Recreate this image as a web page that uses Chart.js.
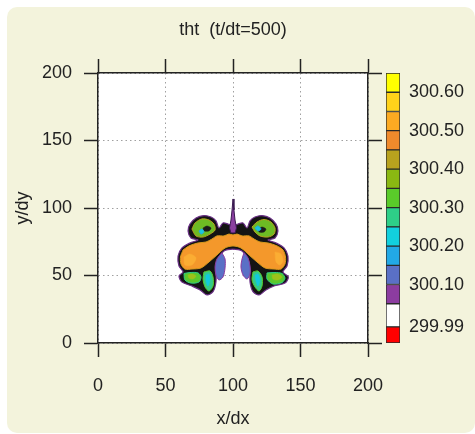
<!DOCTYPE html>
<html>
<head>
<meta charset="utf-8">
<title>tht (t/dt=500)</title>
<script src="https://cdn.jsdelivr.net/npm/chart.js@4.4.1/dist/chart.umd.min.js"></script>
<style>
  body { margin: 0; background: #fff; }
  #wrap { position: relative; width: 475px; height: 434px; overflow: hidden; }
  #panel { position: absolute; left: 7px; top: 7px; width: 468px; height: 426px; background: #f3f3dc; border-radius: 10px; }
  #plot { position: absolute; left: 0; top: 0; }
  #bar { position: absolute; left: 380px; top: 0; }
</style>
</head>
<body>
<div id="wrap">
  <div id="panel"></div>
  <canvas id="plot" width="475" height="434"></canvas>
  <canvas id="bar" width="95" height="434"></canvas>
</div>
<script>
'use strict'

// contour regions, in grid units (x/dx, y/dy)
const outline = [[100,86.7],[103.7,88.1],[107.4,88.9],[110.4,85.2],[112.6,90.4],[116.3,93.3],[121.5,94.4],[127.4,92.6],
  [131.9,88.1],[133.3,83.0],[131.1,77.8],[125.9,76.3],[131.9,74.1],[137.8,70.4],[140.7,64.4],[140.0,57.0],[137.0,52.6],
  [141.0,49.0],[138.5,44.4],[130.4,42.2],[124.4,39.3],[119.3,35.6],[114.8,38.0],[112.6,45.2],[112.6,54.1],[111.1,62.2],
  [106.7,68.1],[100,69.6],[93.3,68.1],[88.9,62.2],[87.4,54.1],[87.4,45.2],[85.2,38.0],[80.7,35.6],[75.6,39.3],[69.6,42.2],
  [62.2,45.2],[60.0,49.6],[63.0,52.6],[60.0,57.0],[59.3,64.4],[62.2,70.4],[68.1,74.1],[74.1,76.3],[68.9,77.8],[66.7,83.0],
  [68.1,88.1],[72.6,92.6],[78.5,94.4],[83.7,93.3],[87.4,90.4],[89.6,85.2],[92.6,88.9],[96.3,88.1],[100,86.7]];
const body = [[63.0,68.9],[67.4,71.9],[74.1,74.1],[80.0,74.8],[84.4,77.0],[88.1,79.3],[93.3,79.3],[97.0,80.7],[100,80.0],
  [103.0,80.7],[106.7,79.3],[111.9,79.3],[115.6,77.0],[120,74.8],[125.9,74.1],[132.6,71.9],[137.0,68.9],[138.9,63.7],
  [138.5,58.5],[135.6,54.8],[130.4,54.8],[123.7,55.6],[117.8,60.0],[111.9,65.2],[105.9,70.4],[100,71.9],[94.1,70.4],
  [88.1,65.2],[82.2,60.0],[76.3,55.6],[69.6,54.8],[64.4,54.8],[61.5,58.5],[61.1,63.7],[63.0,68.9]];
const patchL = [[63.7,63.7],[68.1,65.9],[72.6,63.0],[69.6,57.8],[64.4,57.8],[63.7,63.7]];
const patchR = [[131.1,67.4],[135.6,65.9],[137.0,60.7],[134.8,57.8],[131.9,60.0],[131.1,67.4]];
const earL = [[69.6,84.4],[71.9,88.9],[77.0,91.9],[82.2,91.1],[85.9,88.1],[86.7,83.7],[83.0,80.7],[77.8,78.5],[72.6,79.3],[69.6,84.4]];
const earLcore = [[77.8,85.2],[80.7,86.7],[83.7,85.2],[82.2,83.0],[78.5,83.0],[77.8,85.2]];
const earLspot = [[74.8,83.0],[77.0,84.4],[78.5,82.2],[76.3,80.7],[74.8,83.0]];
const earR = [[114.1,85.9],[117.8,89.6],[123.0,91.5],[128.1,89.6],[131.1,85.2],[130.4,80.7],[125.9,78.5],[120,79.3],[116.3,82.2],[114.1,85.9]];
const earRcore = [[118.5,84.4],[121.5,85.9],[124.4,84.4],[123.0,82.2],[119.3,82.2],[118.5,84.4]];
const earRspot = [[116.3,85.2],[118.5,86.7],[120.7,84.4],[118.5,83.0],[116.3,85.2]];
const lobeL = [[63.7,51.5],[68.1,52.2],[74.1,51.9],[76.3,48.9],[74.8,45.2],[68.9,44.4],[64.4,46.7],[63.7,51.5]];
const lobeLspot = [[66.7,50.4],[69.6,51.1],[72.6,49.6],[70.4,47.4],[67.4,48.1],[66.7,50.4]];
const lobeR = [[125.2,51.9],[131.1,52.2],[136.3,51.5],[138.5,48.1],[136.3,44.8],[129.6,43.7],[125.2,47.4],[125.2,51.9]];
const lobeRspot = [[128.9,50.4],[133.3,51.1],[136.3,48.9],[133.3,46.7],[129.6,47.4],[128.9,50.4]];
const legL = [[78.5,52.6],[83.0,53.3],[85.2,48.9],[85.2,42.2],[82.2,38.5],[79.3,41.5],[77.8,47.4],[78.5,52.6]];
const legLspot = [[80.0,50.4],[82.2,51.1],[83.0,46.7],[81.5,42.2],[80.0,45.9],[80.0,50.4]];
const legR = [[114.8,52.6],[118.5,53.3],[121.5,48.9],[121.5,42.2],[119.3,38.5],[116.3,41.5],[114.1,46.7],[114.8,52.6]];
const legRspot = [[116.3,50.4],[118.5,51.1],[120.0,46.7],[118.5,42.2],[117.0,45.9],[116.3,50.4]];
const tongueL = [[91.9,66.7],[88.1,62.2],[86.7,56.3],[87.4,50.4],[89.6,46.7],[92.6,48.9],[94.1,55.6],[94.1,62.2],[91.9,66.7]];
const tongueR = [[108.1,66.7],[106.7,62.2],[105.9,56.3],[107.4,50.4],[110.4,47.4],[112.6,51.1],[112.6,57.0],[111.1,63.0],[108.1,66.7]];
const spike = [[100,106.7],[100.7,98.5],[101.5,91.1],[102.6,85.2],[101.5,81.5],[98.5,81.5],[97.4,85.2],[98.5,91.1],[99.3,98.5],[100,106.7]];

// colour bar: level edges (bottom to top), colours, labelled levels
const cbLevels = [299.948, 299.99, 300.05, 300.10, 300.15, 300.20, 300.25, 300.30, 300.35, 300.40, 300.45, 300.50, 300.55, 300.60, 300.65];
const cbColors = ['#ff0000', '#ffffff', '#8c3ca0', '#5a70c6', '#22a9e6', '#12d0de', '#2ecf88', '#5acb2a',
  '#8ab812', '#b8a21e', '#f08a2c', '#fcaa22', '#ffd21a', '#ffff00'];
const cbTicks = [299.99, 300.10, 300.20, 300.30, 300.40, 300.50, 300.60];

const ink = '#222';
const font = { family: 'Liberation Sans', size: 18 };

// layers from bottom to top: [points, fill, edge, edge width, tension]
const layers = [
  [outline, '#141414', '#6a2f86', 1.2, 0.3],
  [body, '#f4982b', '#d99a1c', 1, 0.3],
  [patchL, '#fbad33', '#fbad33', 0.5, 0.3],
  [patchR, '#fbad33', '#fbad33', 0.5, 0.3],
  [earL, '#6dbb24', '#b8a21e', 1, 0.3],
  [earLcore, '#1a1a1a', '#1a1a1a', 0.5, 0.3],
  [earLspot, '#18c8dc', '#22a9e6', 1, 0.3],
  [earR, '#6dbb24', '#b8a21e', 1, 0.3],
  [earRcore, '#1a1a1a', '#1a1a1a', 0.5, 0.3],
  [earRspot, '#18c8dc', '#22a9e6', 1, 0.3],
  [lobeL, '#5ac82d', '#2ecf88', 1, 0.3],
  [lobeLspot, '#9cc21a', '#9cc21a', 0.5, 0.3],
  [lobeR, '#5ac82d', '#2ecf88', 1, 0.3],
  [lobeRspot, '#9cc21a', '#9cc21a', 0.5, 0.3],
  [legL, '#33c98a', '#5acb2a', 1, 0.3],
  [legLspot, '#12c8dc', '#12c8dc', 0.5, 0.3],
  [legR, '#33c98a', '#5acb2a', 1, 0.3],
  [legRspot, '#12c8dc', '#12c8dc', 0.5, 0.3],
  [tongueL, '#5a70c6', '#8c3ca0', 1, 0.3],
  [tongueR, '#5a70c6', '#8c3ca0', 1, 0.3],
  [spike, '#8a3fa0', '#3a1a50', 1, 0]
];

const datasets = layers.map((l, i) => ({
  data: l[0].map(p => ({ x: p[0], y: p[1] })),
  showLine: true,
  fill: 'shape',
  backgroundColor: l[1],
  borderColor: l[2],
  borderWidth: l[3],
  tension: l[4],
  pointRadius: 0,
  order: layers.length - i
}));

const plotBg = {
  id: 'plotBg',
  beforeDraw(chart) {
    const { ctx, chartArea: a } = chart;
    ctx.save();
    ctx.fillStyle = '#ffffff';
    ctx.fillRect(a.left, a.top, a.right - a.left, a.bottom - a.top);
    ctx.restore();
  }
};

const tickGrid = { tickLength: 14, tickColor: ink, tickWidth: 1.5, tickBorderDash: [] };

new Chart(document.getElementById('plot'), {
  type: 'scatter',
  data: { datasets: datasets },
  plugins: [plotBg],
  options: {
    responsive: false,
    animation: false,
    events: [],
    layout: { padding: 0 },
    plugins: { legend: { display: false }, tooltip: { enabled: false } },
    scales: {
      x: {
        type: 'linear', position: 'bottom', min: 0, max: 200,
        ticks: { stepSize: 50, padding: 18, color: ink, font: font, maxRotation: 0 },
        grid: Object.assign({ color: '#a0a0a0', lineWidth: 1 }, tickGrid),
        border: { display: true, color: ink, width: 1.5, dash: [1.5, 3] },
        title: { display: true, text: 'x/dx', color: ink, font: font, padding: { top: 0, bottom: 4 } },
        afterFit: s => { s.height = 91; }
      },
      x2: {
        type: 'linear', position: 'top', min: 0, max: 200,
        ticks: { stepSize: 50, display: false },
        grid: Object.assign({ drawOnChartArea: false }, tickGrid),
        border: { display: true, color: ink, width: 1.5 },
        title: { display: true, text: 'tht  (t/dt=500)', color: ink, font: font, padding: { top: 19, bottom: 0 } },
        afterFit: s => { s.height = 73; }
      },
      y: {
        type: 'linear', position: 'left', min: 0, max: 200,
        ticks: { stepSize: 50, padding: 12, color: ink, font: font },
        grid: Object.assign({ color: '#a0a0a0', lineWidth: 1 }, tickGrid),
        border: { display: true, color: ink, width: 1.5, dash: [1.5, 3] },
        title: { display: true, text: 'y/dy', color: ink, font: font, padding: { top: 12, bottom: 0 } },
        afterFit: s => { s.width = 98; }
      },
      y2: {
        type: 'linear', position: 'right', min: 0, max: 200,
        ticks: { stepSize: 50, display: false },
        grid: Object.assign({ drawOnChartArea: false }, tickGrid),
        border: { display: true, color: ink, width: 1.5 },
        afterFit: s => { s.width = 107; }
      }
    }
  }
});

new Chart(document.getElementById('bar'), {
  type: 'bar',
  data: {
    labels: [''],
    datasets: cbColors.map((c, i) => ({
      data: [[cbLevels[i], cbLevels[i + 1]]],
      backgroundColor: c,
      borderColor: '#2a2a2a',
      borderWidth: 1,
      borderSkipped: false,
      grouped: false,
      barPercentage: 1,
      categoryPercentage: 1
    }))
  },
  options: {
    responsive: false,
    animation: false,
    events: [],
    layout: { padding: { left: 6, top: 73, bottom: 91, right: 0 } },
    plugins: { legend: { display: false }, tooltip: { enabled: false } },
    scales: {
      x: { display: false },
      y: {
        position: 'right', min: cbLevels[0], max: cbLevels[cbLevels.length - 1],
        afterBuildTicks: s => { s.ticks = cbTicks.map(v => ({ value: v })); },
        ticks: { callback: v => v.toFixed(2), padding: 9, color: ink, font: font },
        grid: { display: false, drawTicks: false },
        border: { display: false },
        afterFit: s => { s.width = 75; }
      }
    }
  }
});
</script>
</body>
</html>
